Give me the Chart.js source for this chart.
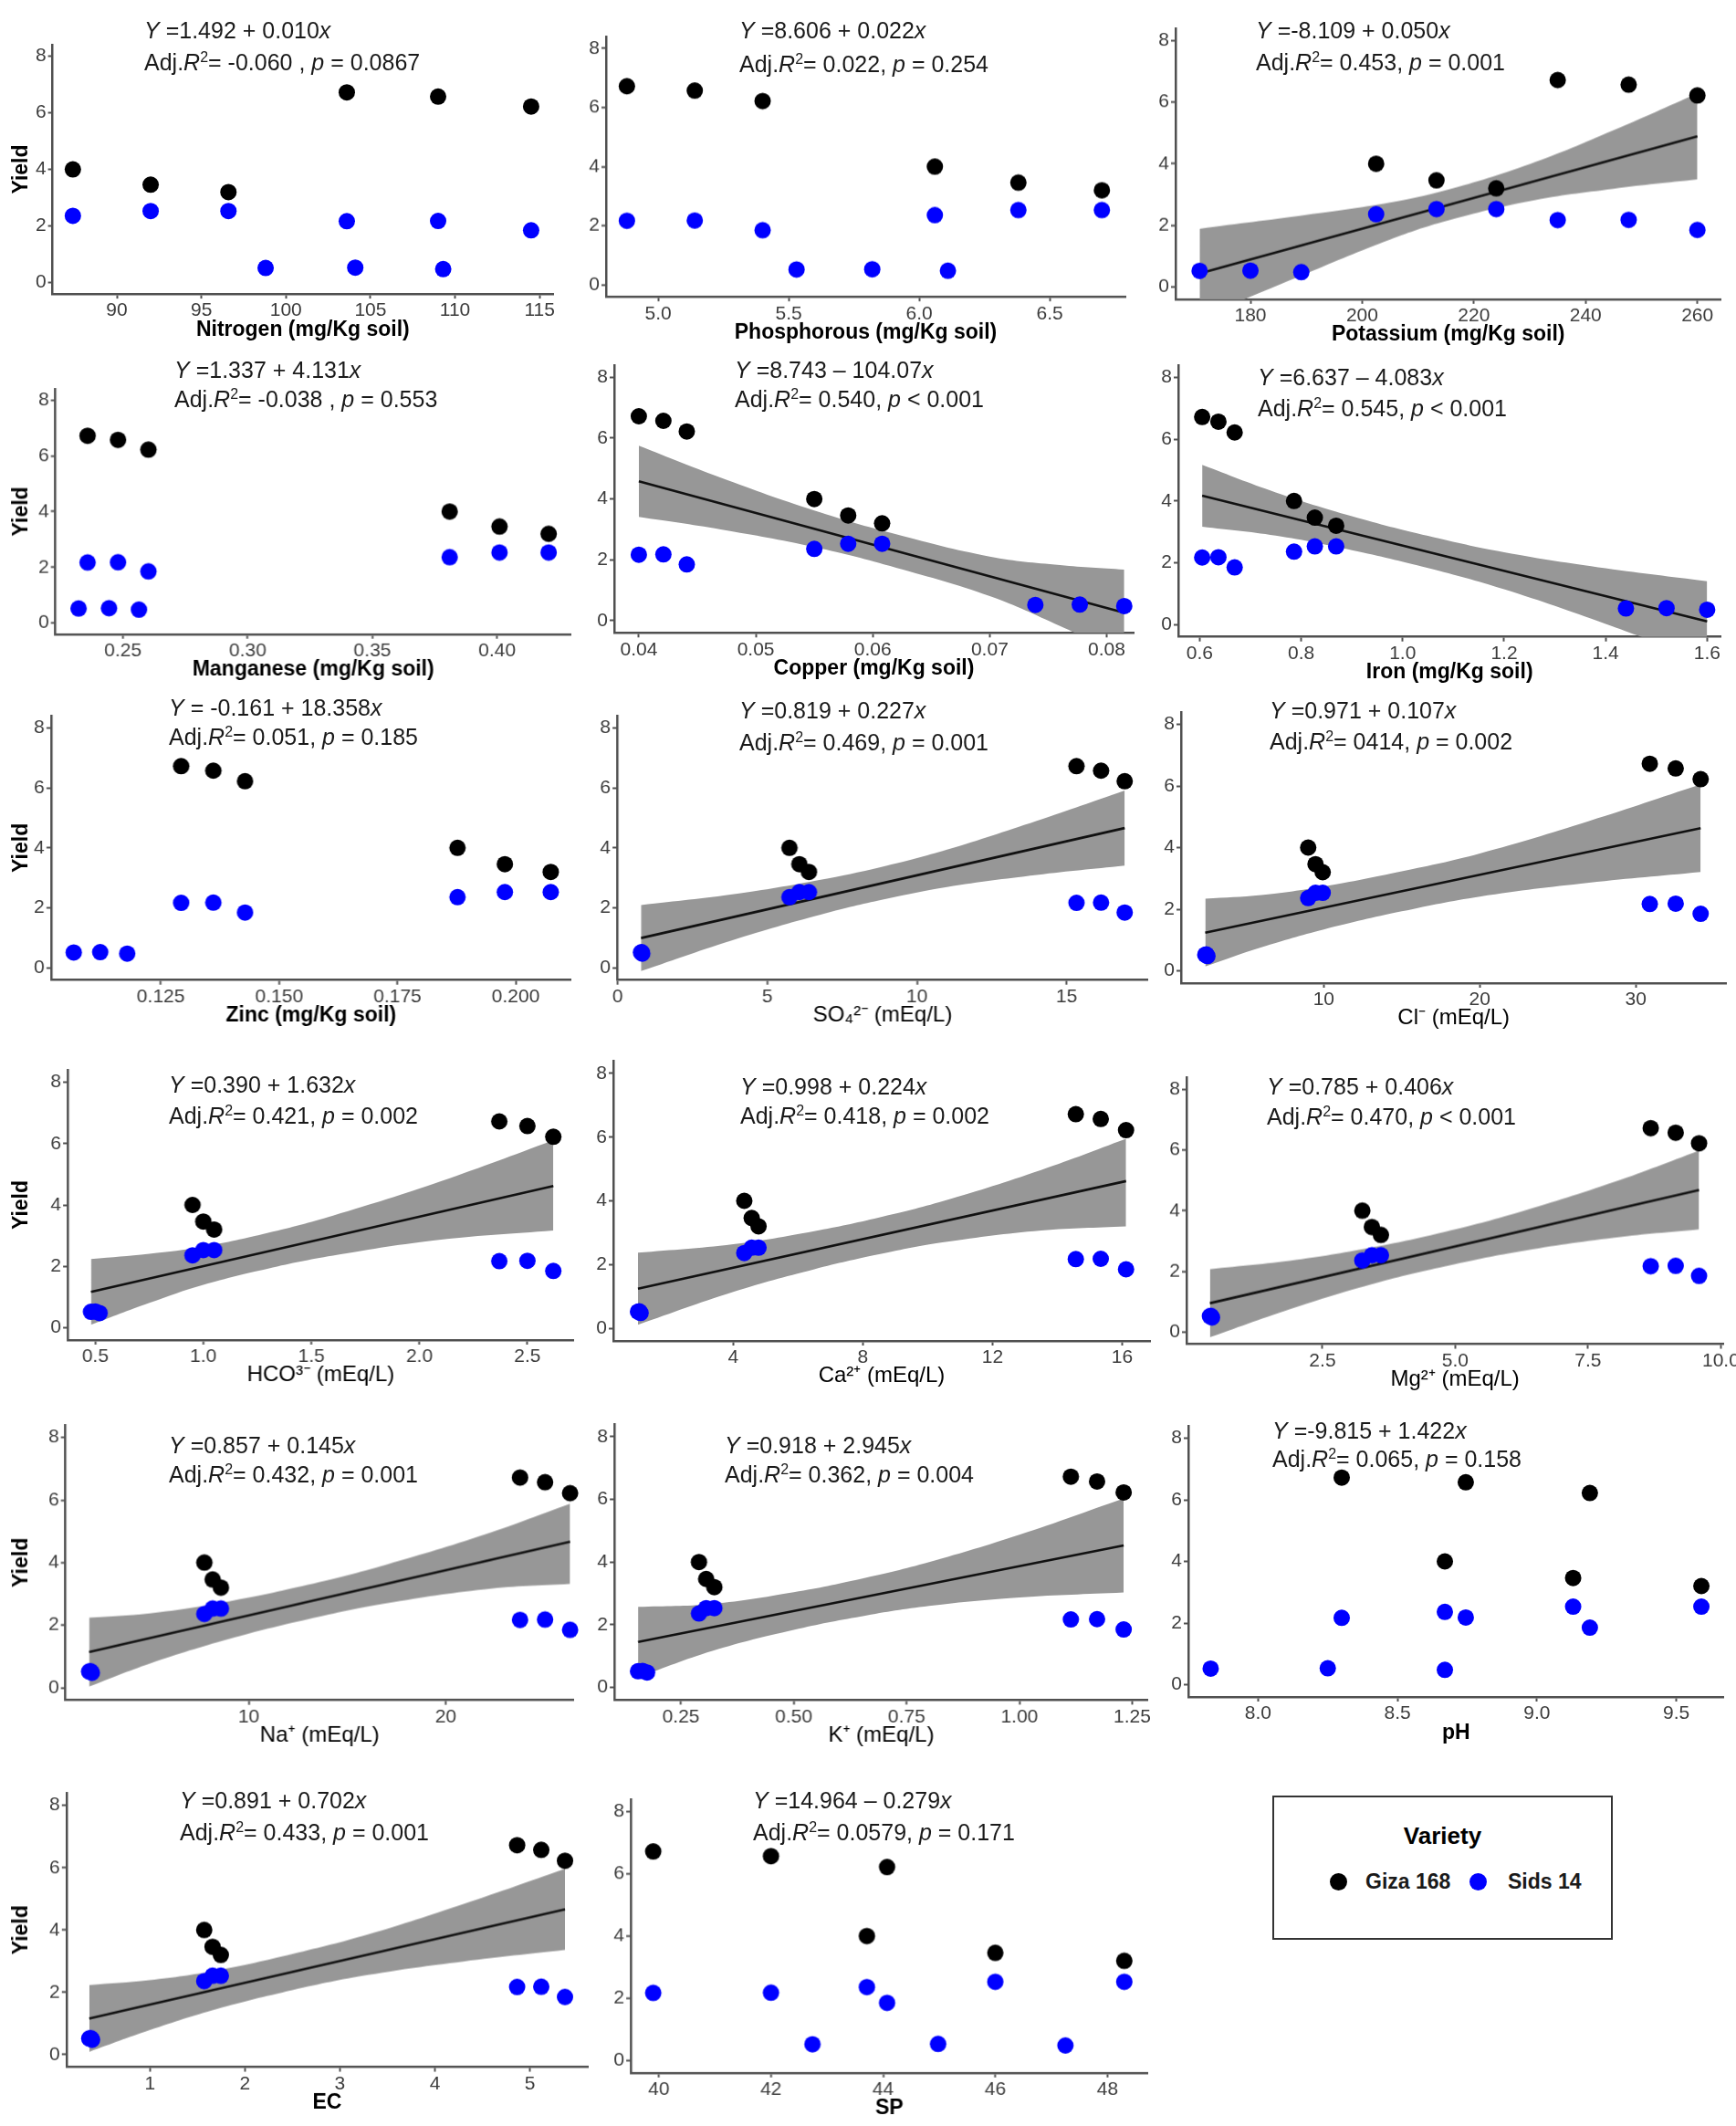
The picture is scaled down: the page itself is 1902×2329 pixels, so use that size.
<!DOCTYPE html>
<html>
<head>
<meta charset="utf-8">
<script src="https://cdn.jsdelivr.net/npm/chart.js@4.4.0/dist/chart.umd.min.js"></script>
<style>
  body { margin: 0; background: #fff; }
  #page { position: relative; width: 1902px; height: 2329px; overflow: hidden; font-family: 'Liberation Sans', Arial, sans-serif; }
  .panel { position: absolute; }
  .eq { position: absolute; font-size: 25px; line-height: 28px; color: #1a1a1a; white-space: pre; }
  .eq sup { font-size: 16px; vertical-align: 9px; line-height: 0; }
  #legend { position: absolute; left: 1394px; top: 1967px; width: 369px; height: 154px; border: 2px solid #333; }
  #legend .ttl { position: absolute; left: 0; top: 27px; width: 100%; text-align: center; font-size: 26px; font-weight: bold; }
  #legend .dot { position: absolute; width: 19px; height: 19px; border-radius: 50%; top: 83px; }
  #legend .lbl { position: absolute; top: 79px; font-size: 23px; font-weight: bold; color: #1a1a1a; }
</style>
</head>
<body>
<div id="page"></div>
<script>
// SHARED YIELD VALUES (same samples in every panel)
const varieties = ['Giza 168', 'Sids 14'];
const giza168Yield = [6.72, 6.57, 6.22, 4.00, 3.46, 3.20];
const sids14Yield = [2.17, 2.18, 1.85, 2.36, 2.53, 2.53, 0.52, 0.53, 0.48];
const yieldTicks = ['0', '2', '4', '6', '8'];

// X VALUES PER SOIL PROPERTY
const nitrogenX = [103.6, 109.0, 114.5, 87.4, 92.0, 96.6, 98.8, 104.1, 109.3];
const phosphorousX = [4.88, 5.14, 5.40, 6.06, 6.38, 6.70, 5.53, 5.82, 6.11];
const potassiumX = [235.0, 247.7, 260.0, 202.5, 213.3, 224.0, 170.9, 180.0, 189.1];
const manganeseX = [0.2358, 0.2480, 0.2602, 0.3810, 0.4010, 0.4207, 0.2322, 0.2444, 0.2564];
const copperX = [0.0400, 0.0421, 0.0441, 0.0550, 0.0579, 0.0608, 0.0739, 0.0777, 0.0815];
const ironX = [0.605, 0.637, 0.669, 0.786, 0.827, 0.869, 1.44, 1.52, 1.60];
const zincX = [0.1293, 0.1361, 0.1428, 0.1877, 0.1977, 0.2074, 0.1066, 0.1122, 0.1179];
const sulfateX = [15.33, 16.15, 16.94, 5.74, 6.07, 6.39, 0.78, 0.80, 0.82];
const chlorideX = [30.90, 32.56, 34.16, 9.00, 9.47, 9.93, 2.40, 2.47, 2.54];
const bicarbonateX = [2.37, 2.50, 2.62, 0.95, 1.00, 1.05, 0.48, 0.50, 0.52];
const calciumX = [14.57, 15.34, 16.12, 4.34, 4.57, 4.78, 1.06, 1.10, 1.14];
const magnesiumX = [8.68, 9.15, 9.59, 3.25, 3.43, 3.60, 0.38, 0.40, 0.42];
const sodiumX = [23.77, 25.04, 26.31, 7.75, 8.17, 8.59, 1.90, 1.97, 2.04];
const potassiumIonX = [1.114, 1.172, 1.231, 0.290, 0.306, 0.324, 0.155, 0.165, 0.175];
const phX = [8.30, 8.745, 9.19, 8.67, 9.13, 9.59, 7.83, 8.25, 8.67];
const ecX = [4.866, 5.12, 5.37, 1.571, 1.659, 1.746, 0.360, 0.376, 0.390];
const spX = [39.9, 42.0, 44.07, 43.71, 46.0, 48.3, 42.74, 44.98, 47.25];

// TICK LABELS
const nitrogenTicks = ['90', '95', '100', '105', '110', '115'];
const phosphorousTicks = ['5.0', '5.5', '6.0', '6.5'];
const potassiumTicks = ['180', '200', '220', '240', '260'];
const manganeseTicks = ['0.25', '0.30', '0.35', '0.40'];
const copperTicks = ['0.04', '0.05', '0.06', '0.07', '0.08'];
const ironTicks = ['0.6', '0.8', '1.0', '1.2', '1.4', '1.6'];
const zincTicks = ['0.125', '0.150', '0.175', '0.200'];
const sulfateTicks = ['0', '5', '10', '15'];
const chlorideTicks = ['10', '20', '30'];
const bicarbonateTicks = ['0.5', '1.0', '1.5', '2.0', '2.5'];
const calciumTicks = ['4', '8', '12', '16'];
const magnesiumTicks = ['2.5', '5.0', '7.5', '10.0'];
const sodiumTicks = ['10', '20'];
const potassiumIonTicks = ['0.25', '0.50', '0.75', '1.00', '1.25'];
const phTicks = ['8.0', '8.5', '9.0', '9.5'];
const ecTicks = ['1', '2', '3', '4', '5'];
const spTicks = ['40', '42', '44', '46', '48'];

// FITTED LINES AND CONFIDENCE BANDS
const potassiumFitX = [170.9, 260.0], potassiumFitY = [0.44, 4.89];
const potassiumBandX = [170.9, 190, 205, 215, 230, 245, 260];
const potassiumBandHi = [1.89, 2.34, 2.74, 3.14, 3.99, 5.09, 6.29];
const potassiumBandLo = [-1.01, 0.44, 1.54, 2.14, 2.79, 3.19, 3.49];

const copperFitX = [0.0400, 0.0815], copperFitY = [4.58, 0.26];
const copperBandX = [0.040, 0.047, 0.055, 0.062, 0.070, 0.076, 0.0815];
const copperBandHi = [5.75, 4.70, 3.62, 2.84, 2.11, 1.83, 1.68];
const copperBandLo = [3.41, 3.00, 2.42, 1.74, 0.81, -0.17, -1.16];

const ironFitX = [0.605, 1.60], ironFitY = [4.17, 0.10];
const ironBandX = [0.605, 0.75, 0.9, 1.05, 1.2, 1.4, 1.6];
const ironBandHi = [5.17, 4.28, 3.51, 2.87, 2.34, 1.82, 1.40];
const ironBandLo = [3.17, 2.88, 2.41, 1.83, 1.14, 0.02, -1.20];

const sulfateFitX = [0.78, 16.94], sulfateFitY = [1.00, 4.66];
const sulfateBandX = [0.78, 4, 7, 9, 11, 14, 16.94];
const sulfateBandHi = [2.10, 2.48, 2.98, 3.41, 3.94, 4.90, 5.91];
const sulfateBandLo = [-0.10, 0.98, 1.84, 2.31, 2.70, 3.10, 3.41];

const chlorideFitX = [2.40, 34.16], chlorideFitY = [1.24, 4.63];
const chlorideBandX = [2.40, 6, 10, 15, 20, 27, 34.16];
const chlorideBandHi = [2.34, 2.46, 2.74, 3.23, 3.81, 4.86, 6.05];
const chlorideBandLo = [0.14, 0.76, 1.34, 1.93, 2.41, 2.86, 3.21];

const bicarbonateFitX = [0.48, 2.62], bicarbonateFitY = [1.17, 4.62];
const bicarbonateBandX = [0.48, 0.75, 1.0, 1.3, 1.6, 2.1, 2.62];
const bicarbonateBandHi = [2.24, 2.41, 2.64, 3.09, 3.65, 4.77, 6.10];
const bicarbonateBandLo = [0.10, 0.81, 1.40, 1.93, 2.35, 2.87, 3.17];

const calciumFitX = [1.06, 16.12], calciumFitY = [1.24, 4.62];
const calciumBandX = [1.06, 4, 6.5, 8.5, 10.5, 13.5, 16.12];
const calciumBandHi = [2.37, 2.64, 3.05, 3.48, 4.00, 4.97, 5.95];
const calciumBandLo = [0.11, 1.14, 1.85, 2.32, 2.70, 3.07, 3.20];

const magnesiumFitX = [0.38, 9.59], magnesiumFitY = [0.95, 4.68];
const magnesiumBandX = [0.38, 2, 3.5, 4.8, 6.2, 8, 9.59];
const magnesiumBandHi = [2.07, 2.38, 2.81, 3.30, 3.95, 4.95, 5.98];
const magnesiumBandLo = [-0.17, 0.82, 1.61, 2.16, 2.65, 3.11, 3.38];

const sodiumFitX = [1.90, 26.31], sodiumFitY = [1.14, 4.67];
const sodiumBandX = [1.90, 5, 9, 13, 17, 22, 26.31];
const sodiumBandHi = [2.24, 2.38, 2.76, 3.29, 3.94, 4.90, 5.88];
const sodiumBandLo = [0.04, 0.78, 1.56, 2.19, 2.70, 3.15, 3.32];

const potassiumIonFitX = [0.155, 1.231], potassiumIonFitY = [1.45, 4.53];
const potassiumIonBandX = [0.155, 0.32, 0.5, 0.65, 0.8, 1.0, 1.231];
const potassiumIonBandHi = [2.57, 2.67, 3.04, 3.47, 4.00, 4.87, 6.03];
const potassiumIonBandLo = [0.33, 1.17, 1.84, 2.27, 2.60, 2.87, 3.03];

const ecFitX = [0.36, 5.37], ecFitY = [1.16, 4.66];
const ecBandX = [0.36, 1.0, 1.7, 2.5, 3.3, 4.3, 5.37];
const ecBandHi = [2.23, 2.39, 2.70, 3.23, 3.86, 4.83, 5.96];
const ecBandLo = [0.09, 0.79, 1.46, 2.07, 2.56, 2.99, 3.36];

// EQUATIONS
const equations = [
    ['1.492', '+', '0.010', '-0.060 ', '= 0.0867'],
    ['8.606', '+', '0.022', '0.022', '= 0.254'],
    ['-8.109', '+', '0.050', '0.453', '= 0.001'],
    ['1.337', '+', '4.131', '-0.038 ', '= 0.553'],
    ['8.743', '\u2013', '104.07', '0.540', '< 0.001'],
    ['6.637', '\u2013', '4.083', '0.545', '< 0.001'],
    [' -0.161', '+', '18.358', '0.051', '= 0.185'],
    ['0.819', '+', '0.227', '0.469', '= 0.001'],
    ['0.971', '+', '0.107', '0414', '= 0.002'],
    ['0.390', '+', '1.632', '0.421', '= 0.002'],
    ['0.998', '+', '0.224', '0.418', '= 0.002'],
    ['0.785', '+', '0.406', '0.470', '< 0.001'],
    ['0.857', '+', '0.145', '0.432', '= 0.001'],
    ['0.918', '+', '2.945', '0.362', '= 0.004'],
    ['-9.815', '+', '1.422', '0.065', '= 0.158'],
    ['0.891', '+', '0.702', '0.433', '= 0.001'],
    ['14.964', '\u2013', '0.279', '0.0579', '= 0.171']
];

const panels = [
    { title: 'Nitrogen (mg/Kg soil)', x: nitrogenX, ticks: nitrogenTicks, range: [86.2, 115.8] },
    { title: 'Phosphorous (mg/Kg soil)', x: phosphorousX, ticks: phosphorousTicks, range: [4.80, 6.79] },
    { title: 'Potassium (mg/Kg soil)', x: potassiumX, ticks: potassiumTicks, range: [166.6, 264.2],
      fit: [potassiumFitX, potassiumFitY], band: [potassiumBandX, potassiumBandHi, potassiumBandLo] },
    { title: 'Manganese (mg/Kg soil)', x: manganeseX, ticks: manganeseTicks, range: [0.2229, 0.4297] },
    { title: 'Copper (mg/Kg soil)', x: copperX, ticks: copperTicks, range: [0.0379, 0.0823],
      fit: [copperFitX, copperFitY], band: [copperBandX, copperBandHi, copperBandLo] },
    { title: 'Iron (mg/Kg soil)', x: ironX, ticks: ironTicks, range: [0.558, 1.627],
      fit: [ironFitX, ironFitY], band: [ironBandX, ironBandHi, ironBandLo] },
    { title: 'Zinc (mg/Kg soil)', x: zincX, ticks: zincTicks, range: [0.1018, 0.2117] },
    { title: 'SO\u2084\u00b2\u207b (mEq/L)', x: sulfateX, ticks: sulfateTicks, range: [-0.02, 17.72],
      fit: [sulfateFitX, sulfateFitY], band: [sulfateBandX, sulfateBandHi, sulfateBandLo] },
    { title: 'Cl\u207b (mEq/L)', x: chlorideX, ticks: chlorideTicks, range: [0.85, 35.8],
      fit: [chlorideFitX, chlorideFitY], band: [chlorideBandX, chlorideBandHi, chlorideBandLo] },
    { title: 'HCO\u00b3\u207b (mEq/L)', x: bicarbonateX, ticks: bicarbonateTicks, range: [0.372, 2.715],
      fit: [bicarbonateFitX, bicarbonateFitY], band: [bicarbonateBandX, bicarbonateBandHi, bicarbonateBandLo] },
    { title: 'Ca\u00b2\u207a (mEq/L)', x: calciumX, ticks: calciumTicks, range: [0.30, 16.86],
      fit: [calciumFitX, calciumFitY], band: [calciumBandX, calciumBandHi, calciumBandLo] },
    { title: 'Mg\u00b2\u207a (mEq/L)', x: magnesiumX, ticks: magnesiumTicks, range: [-0.06, 10.05],
      fit: [magnesiumFitX, magnesiumFitY], band: [magnesiumBandX, magnesiumBandHi, magnesiumBandLo] },
    { title: 'Na\u207a (mEq/L)', x: sodiumX, ticks: sodiumTicks, range: [0.70, 26.5],
      fit: [sodiumFitX, sodiumFitY], band: [sodiumBandX, sodiumBandHi, sodiumBandLo] },
    { title: 'K\u207a (mEq/L)', x: potassiumIonX, ticks: potassiumIonTicks, range: [0.1025, 1.285],
      fit: [potassiumIonFitX, potassiumIonFitY], band: [potassiumIonBandX, potassiumIonBandHi, potassiumIonBandLo] },
    { title: 'pH', x: phX, ticks: phTicks, range: [7.75, 9.67] },
    { title: 'EC', x: ecX, ticks: ecTicks, range: [0.12, 5.61],
      fit: [ecFitX, ecFitY], band: [ecBandX, ecBandHi, ecBandLo] },
    { title: 'SP', x: spX, ticks: spTicks, range: [39.5, 48.72] }
];

// LAYOUT: plot box [left, right, top, bottom] and equation anchor [x, y1, y2]
const boxes = [
    [57.6, 606, 49.3, 322.4], [664, 1233, 40.4, 324.6], [1287.6, 1885, 30.9, 326.8],
    [60.6, 624.7, 426.1, 693.9], [673, 1242, 400, 693.3], [1290.6, 1885, 399.8, 697.5],
    [55.8, 624.7, 783.5, 1073.2], [676.2, 1257, 783.5, 1073.2], [1293.7, 1891, 779.8, 1076.8],
    [74, 627.7, 1171.5, 1467.5], [672, 1260, 1162, 1469], [1299.7, 1888, 1180, 1471.6],
    [71.6, 627.7, 1561.3, 1862], [673.2, 1257, 1559.6, 1862], [1301.5, 1888, 1561.5, 1858.5],
    [72.8, 644, 1964, 2263.6], [691.4, 1257, 1971.4, 2270.3]
];
const eqAnchors = [
    [158, 33, 68], [810, 33, 70], [1376, 33, 68],
    [191, 405, 437], [805, 405, 437], [1378, 413, 447],
    [185, 775, 807], [810, 778, 813], [1391, 778, 812],
    [185, 1188, 1222], [811, 1190, 1222], [1388, 1190, 1223],
    [185, 1583, 1615], [794, 1583, 1615], [1394, 1567, 1598],
    [197, 1972, 2007], [825, 1972, 2007]
];

const page = document.getElementById('page');
const FAMILY = "'Liberation Sans', Arial, sans-serif";
const AXIS_GREY = '#505050';
const toPts = (xs, ys) => xs.map((v, i) => ({ x: v, y: ys[i] }));

panels.forEach((p, k) => {
    const [l, r, t, b] = boxes[k];
    const leftCol = k % 3 === 0;
    const yW = leftCol ? l : 56;
    const PT = 12, XH = 56, PR = Math.min(14, 1902 - r);

    const div = document.createElement('div');
    div.className = 'panel';
    div.style.left = (l - yW) + 'px';
    div.style.top = (t - PT) + 'px';
    div.style.width = (r - l + yW + PR) + 'px';
    div.style.height = (b - t + PT + XH) + 'px';
    const cv = document.createElement('canvas');
    div.appendChild(cv);
    page.appendChild(div);

    const datasets = [
        { type: 'scatter', label: varieties[1], data: toPts(p.x, sids14Yield),
          backgroundColor: '#0000ff', pointRadius: 9, borderWidth: 0, clip: false },
        { type: 'scatter', label: varieties[0], data: toPts(p.x.slice(0, 6), giza168Yield),
          backgroundColor: '#000000', pointRadius: 9, borderWidth: 0, clip: false }
    ];
    if (p.fit) {
        datasets.push({ type: 'line', data: toPts(p.fit[0], p.fit[1]), borderColor: '#111',
            borderWidth: 2.6, pointRadius: 0, fill: false });
        datasets.push({ type: 'line', data: toPts(p.band[0], p.band[1]), borderWidth: 0,
            pointRadius: 0, tension: 0.4, fill: '+1', backgroundColor: '#979797' });
        datasets.push({ type: 'line', data: toPts(p.band[0], p.band[2]), borderWidth: 0,
            pointRadius: 0, tension: 0.4, fill: false });
    }

    const ionTitle = p.title.indexOf('mEq') >= 0;
    new Chart(cv, {
        type: 'scatter',
        data: { datasets: datasets },
        options: {
            responsive: true,
            maintainAspectRatio: false,
            animation: false,
            events: [],
            layout: { padding: { top: PT, right: PR, left: 0, bottom: 0 } },
            plugins: { legend: { display: false }, tooltip: { enabled: false } },
            scales: {
                x: {
                    type: 'linear', min: p.range[0], max: p.range[1],
                    afterBuildTicks: (ax) => { ax.ticks = p.ticks.map(s => ({ value: Number(s) })); },
                    afterFit: (s) => { s.height = XH; s.paddingLeft = 0; s.paddingRight = 0; },
                    ticks: { callback: (v, i) => p.ticks[i], autoSkip: false, maxRotation: 0,
                             padding: 1, color: '#3c3c3c', font: { size: 21, family: FAMILY } },
                    grid: { drawOnChartArea: false, drawTicks: true, tickLength: 5, tickWidth: 2, tickColor: AXIS_GREY },
                    border: { display: true, color: AXIS_GREY, width: 2.5 },
                    title: { display: true, text: p.title, color: '#000',
                             font: { size: ionTitle ? 24 : 23, weight: ionTitle ? 'normal' : 'bold', family: FAMILY },
                             padding: { top: 0, bottom: 3 } }
                },
                y: {
                    type: 'linear', min: -0.4, max: 8.4,
                    afterBuildTicks: (ax) => { ax.ticks = yieldTicks.map(s => ({ value: Number(s) })); },
                    afterFit: (s) => { s.width = yW; s.paddingTop = 0; s.paddingBottom = 0; },
                    ticks: { callback: (v, i) => yieldTicks[i], padding: 2, color: '#3c3c3c',
                             font: { size: 21, family: FAMILY } },
                    grid: { drawOnChartArea: false, drawTicks: true, tickLength: 5, tickWidth: 2, tickColor: AXIS_GREY },
                    border: { display: true, color: AXIS_GREY, width: 2.5 },
                    title: { display: leftCol, text: 'Yield', color: '#000',
                             font: { size: 23, weight: 'bold', family: FAMILY },
                             padding: { top: 10, bottom: 2 } }
                }
            }
        }
    });

    // EQUATION TEXT
    const e = equations[k];
    const [ex, ey1, ey2] = eqAnchors[k];
    const l1 = document.createElement('div');
    l1.className = 'eq';
    l1.style.left = ex + 'px';
    l1.style.top = (ey1 - 14) + 'px';
    l1.innerHTML = `<i>Y</i> =${e[0]} ${e[1]} ${e[2]}<i>x</i>`;
    page.appendChild(l1);
    const l2 = document.createElement('div');
    l2.className = 'eq';
    l2.style.left = ex + 'px';
    l2.style.top = (ey2 - 14) + 'px';
    l2.innerHTML = `Adj.<i>R</i><sup>2</sup>= ${e[3]}, <i>p</i> ${e[4]}`;
    page.appendChild(l2);
});

// LEGEND
const legend = document.createElement('div');
legend.id = 'legend';
legend.innerHTML =
    '<div class="ttl">Variety</div>' +
    '<div class="dot" style="left:61px;background:#000"></div>' +
    `<div class="lbl" style="left:100px">${varieties[0]}</div>` +
    '<div class="dot" style="left:214px;background:#0000ff"></div>' +
    `<div class="lbl" style="left:256px">${varieties[1]}</div>`;
page.appendChild(legend);
</script>
</body>
</html>
